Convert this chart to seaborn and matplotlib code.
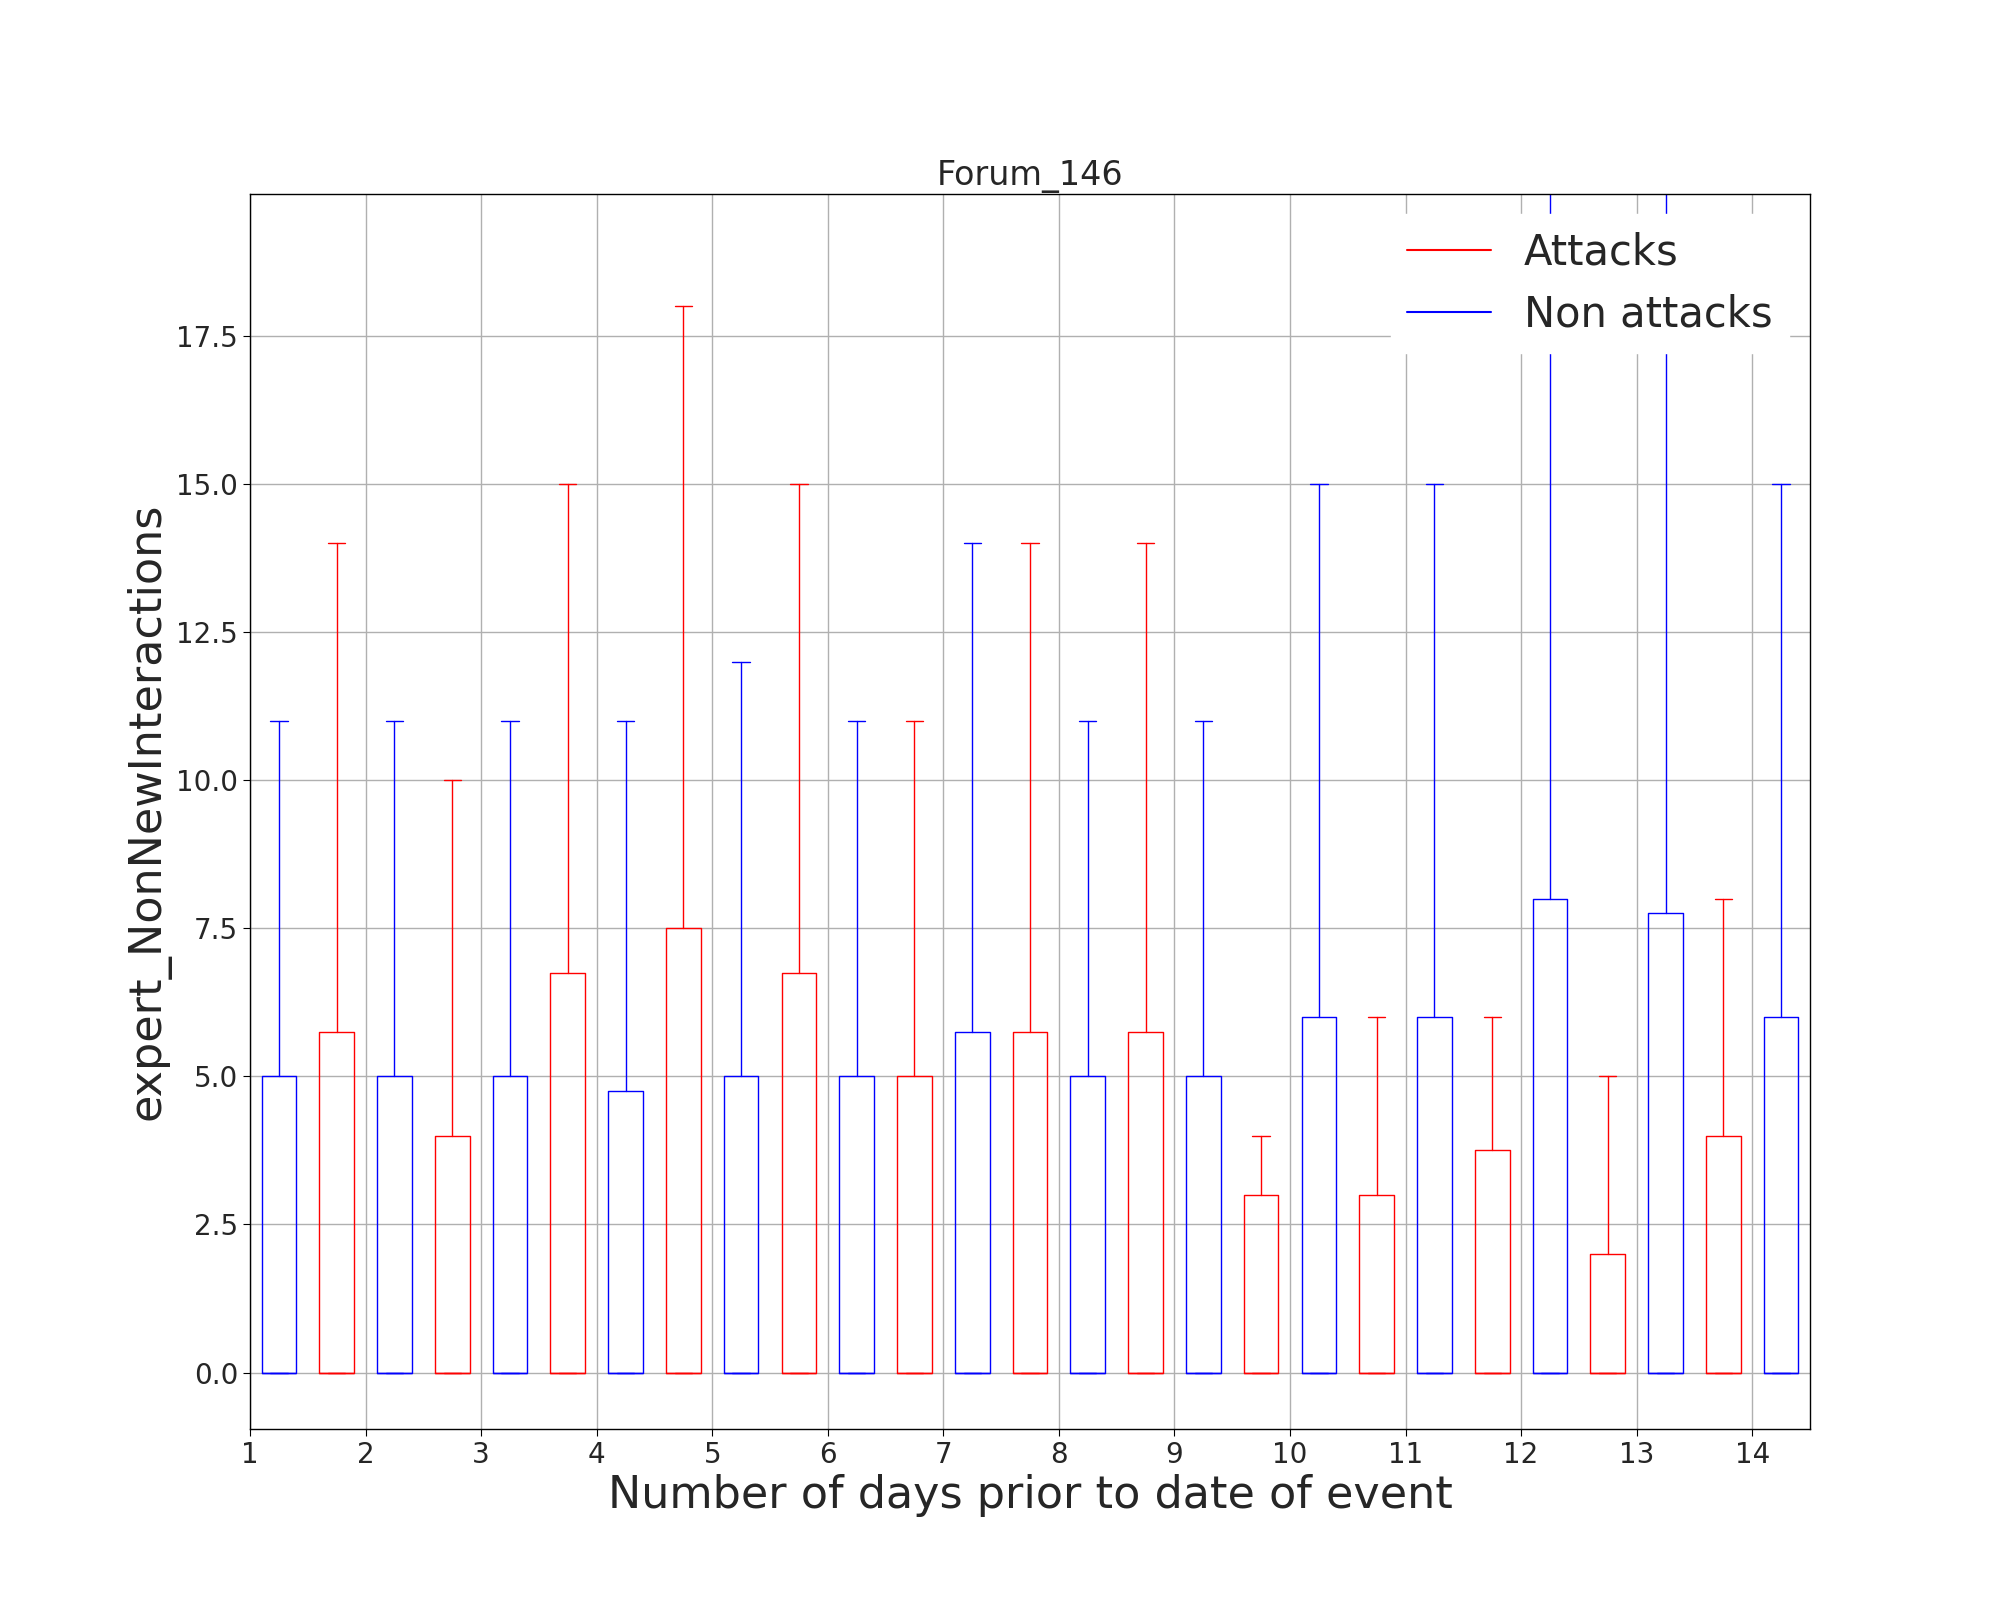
import matplotlib
matplotlib.use("Agg")
import matplotlib.pyplot as plt
import seaborn as sns

days = list(range(1, 15))
non_q3 = [5, 5, 5, 4.75, 5, 5, 5.75, 5, 5, 6, 6, 8, 7.75, 6]
non_hi = [11, 11, 11, 11, 12, 11, 14, 11, 11, 15, 15, 21, 21, 15]
att_q3 = [5.75, 4, 6.75, 7.5, 6.75, 5, 5.75, 5.75, 3, 3, 3.75, 2, 4]
att_hi = [14, 10, 15, 18, 15, 11, 14, 14, 4, 6, 6, 5, 8]

sns.set_style("whitegrid")
plt.rcParams["font.family"] = ["DejaVu Sans"]

fig = plt.figure(figsize=(20, 16), dpi=100)
ax = fig.add_axes([0.125, 0.107, 0.78, 0.772])


def stats(q3s, his):
    return [dict(med=0, q1=0, q3=q, whislo=0, whishi=h, fliers=[]) for q, h in zip(q3s, his)]


for q3s, his, pos, col in [
    (non_q3, non_hi, [d + 0.25 for d in days], "blue"),
    (att_q3, att_hi, [d + 0.75 for d in days[:len(att_q3)]], "red"),
]:
    props = dict(color=col)
    ax.bxp(stats(q3s, his), positions=pos, widths=0.3, showfliers=False,
           boxprops=props, whiskerprops=props, capprops=props, medianprops=props,
           manage_ticks=False)

ax.plot([], [], color="red", label="Attacks")
ax.plot([], [], color="blue", label="Non attacks")
ax.legend(loc="upper right", fontsize=30, frameon=True, edgecolor="white", framealpha=1)

ax.set_xlim(1, 14.5)
ax.set_ylim(-0.95, 19.9)
ax.set_xticks(days)
ax.set_yticks([0, 2.5, 5, 7.5, 10, 12.5, 15, 17.5])
ax.set_yticklabels(["0.0", "2.5", "5.0", "7.5", "10.0", "12.5", "15.0", "17.5"])
ax.grid(True, color="#b0b0b0", linewidth=1)
for s in ax.spines.values():
    s.set_edgecolor("black")
    s.set_linewidth(1)
ax.tick_params(labelsize=20, length=5, color="black", left=True, bottom=True)
ax.set_title("Forum_146", fontsize=24)
ax.set_xlabel("Number of days prior to date of event", fontsize=32)
ax.set_ylabel("expert_NonNewInteractions", fontsize=32)

fig.savefig("out.png", dpi=100)
